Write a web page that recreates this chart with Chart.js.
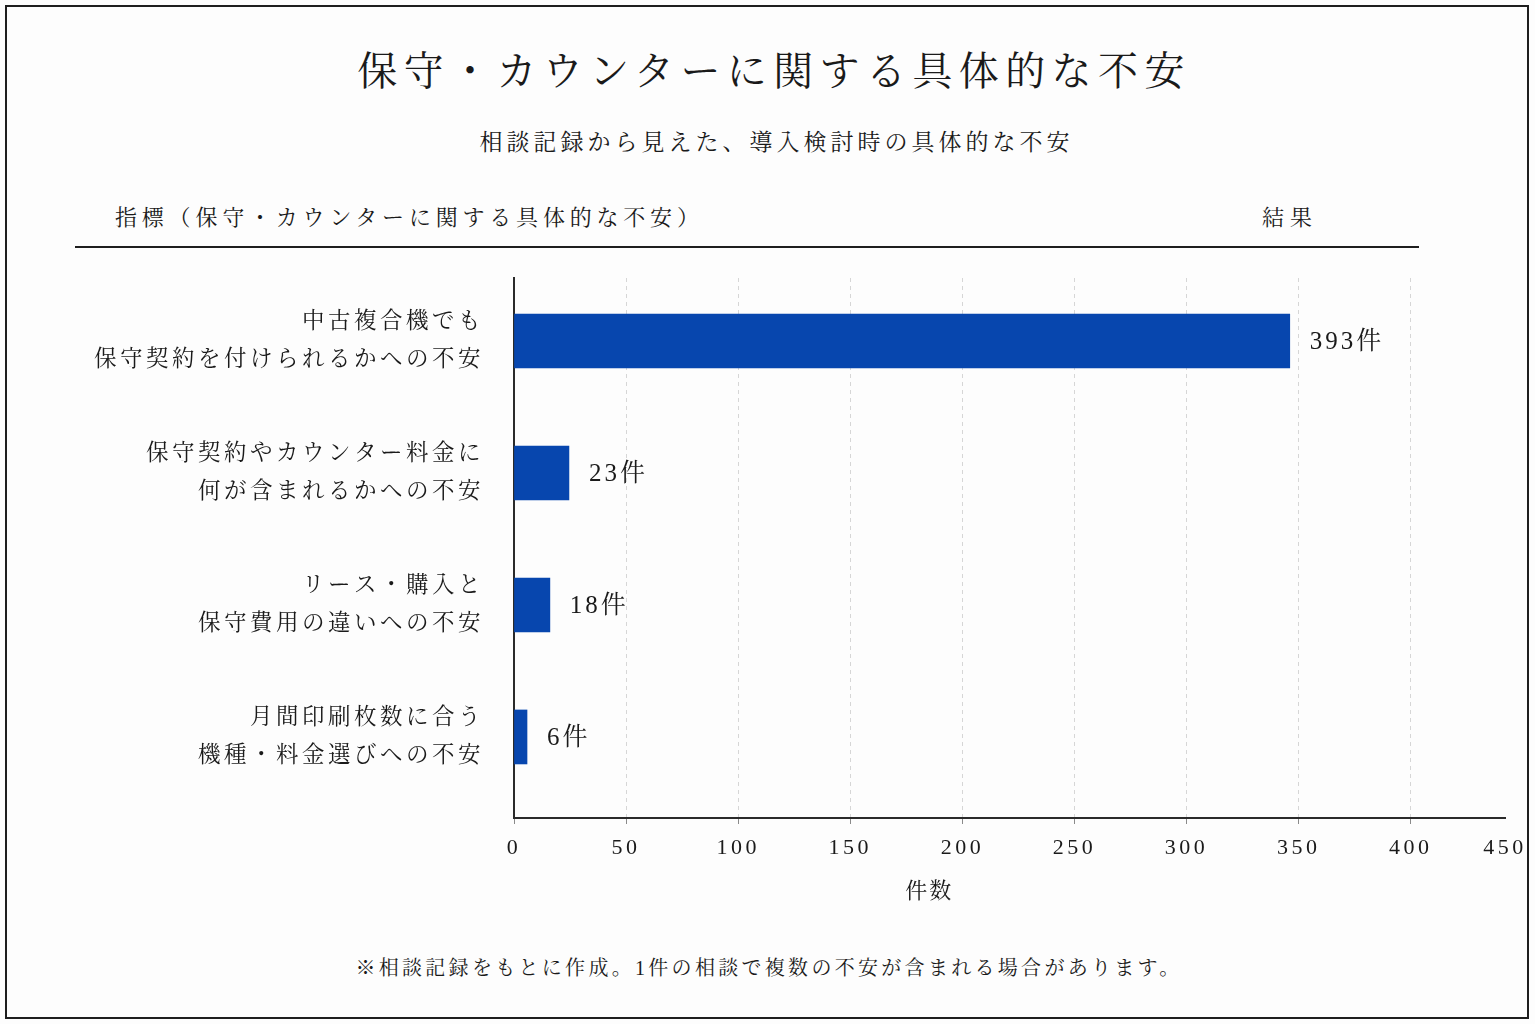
<!DOCTYPE html>
<html lang="ja">
<head>
<meta charset="utf-8">
<script src="https://cdn.jsdelivr.net/npm/chart.js@4.4.1/dist/chart.umd.min.js"></script>
<style>
  html, body { margin: 0; padding: 0; background: #fdfdfd; }
  body { width: 1535px; height: 1024px; position: relative; overflow: hidden;
         font-family: 'Liberation Serif', 'Noto Serif CJK JP', 'Noto Sans CJK JP', serif; color: #1a1a1a; }
  .frame { position: absolute; left: 5px; top: 5px; width: 1524px; height: 1014px;
           box-sizing: border-box; border: 2px solid #1e1e1e; }
  .t { position: absolute; white-space: nowrap; }
  #title { left: 0; width: 1535px; text-align: center; top: 46px; font-size: 40px; line-height: 52px; letter-spacing: 6.4px; padding-left: 13px; box-sizing: border-box; }
  #subtitle { left: 0; width: 1535px; text-align: center; top: 128px; font-size: 23px; line-height: 30px; letter-spacing: 4px; padding-left: 18px; box-sizing: border-box; }
  #hdrLeft { left: 115px; top: 203px; font-size: 22px; line-height: 30px; letter-spacing: 4.8px; }
  #hdrRight { left: 1262px; top: 203px; font-size: 22px; line-height: 30px; letter-spacing: 6px; }
  .rule { position: absolute; left: 75px; top: 246px; width: 1344px; height: 2px; background: #1e1e1e; }
  #note { left: 0; width: 1535px; text-align: center; top: 955px; font-size: 20px; line-height: 26px; letter-spacing: 3.3px; padding-left: 3px; box-sizing: border-box; }
  #chartBox { position: absolute; left: 0; top: 260px; width: 1535px; height: 666px; }
</style>
</head>
<body>
<div class="frame"></div>
<div class="t" id="title">保守・カウンターに関する具体的な不安</div>
<div class="t" id="subtitle">相談記録から見えた、導入検討時の具体的な不安</div>
<div class="t" id="hdrLeft">指標（保守・カウンターに関する具体的な不安）</div>
<div class="t" id="hdrRight">結果</div>
<div class="rule"></div>
<div id="chartBox"><canvas id="c" width="1535" height="666"></canvas></div>
<div class="t" id="note">※相談記録をもとに作成。1件の相談で複数の不安が含まれる場合があります。</div>
<script>
// ---- data ----
const categories = [
  ['中古複合機でも', '保守契約を付けられるかへの不安'],
  ['保守契約やカウンター料金に', '何が含まれるかへの不安'],
  ['リース・購入と', '保守費用の違いへの不安'],
  ['月間印刷枚数に合う', '機種・料金選びへの不安']
];
const countLabels = [393, 23, 18, 6];          // values printed next to bars
const barLengths = [346, 24.5, 16, 5.8];        // bar lengths as drawn in the picture
const xTickLabels = ['0', '50', '100', '150', '200', '250', '300', '350', '400', '450'];
const unitSuffix = '件';
const xAxisTitle = '件数';

const FONT = "'Liberation Serif', 'Noto Serif CJK JP', 'Noto Sans CJK JP', serif";
const TEXT = '#1a1a1a';

const spacingPlugin = {
  id: 'spacing',
  beforeDraw(chart) { chart.ctx.letterSpacing = '3.5px'; }
};
const labelPlugin = {
  id: 'barLabels',
  afterDatasetsDraw(chart) {
    const ctx = chart.ctx;
    const meta = chart.getDatasetMeta(0);
    ctx.save();
    ctx.letterSpacing = '3px';
    ctx.font = '25px ' + FONT;
    ctx.fillStyle = TEXT;
    ctx.textAlign = 'left';
    ctx.textBaseline = 'middle';
    meta.data.forEach((bar, i) => {
      ctx.fillText(countLabels[i] + unitSuffix, bar.x + 20, bar.y + 1);
    });
    const a = chart.chartArea;
    ctx.font = '22px ' + FONT;
    ctx.textAlign = 'center';
    ctx.letterSpacing = '2px';
    ctx.fillText(xAxisTitle, a.left + (a.right - a.left) * 0.419, a.bottom + 74);
    ctx.restore();
  }
};

new Chart(document.getElementById('c'), {
  type: 'bar',
  data: {
    datasets: [{
      data: barLengths.map((v, i) => ({ x: v, y: i })),
      backgroundColor: '#0746ae',
      borderWidth: 0,
      barThickness: 54
    }]
  },
  options: {
    indexAxis: 'y',
    responsive: false,
    animation: false,
    layout: { padding: { left: 0, right: 30, top: 18, bottom: 0 } },
    plugins: { legend: { display: false }, tooltip: { enabled: false }, title: { display: false } },
    scales: {
      x: {
        type: 'linear',
        min: 0,
        max: 442,
        afterFit(s) { s.height = 108; s.paddingLeft = 0; s.paddingRight = 0; },
        grid: {
          display: true,
          drawOnChartArea: true,
          color: (c) => (c.index === 9 || c.index === 0) ? 'rgba(0,0,0,0)' : '#d6d6d6',
          lineWidth: 1,
          tickLength: 6,
          tickColor: (c) => c.index === 9 ? 'rgba(0,0,0,0)' : '#8a8a8a',
          tickBorderDash: [],
        },
        border: { display: true, color: '#2a2a2a', width: 2, dash: [4, 4] },
        ticks: {
          stepSize: 50,
          autoSkip: false,
          maxRotation: 0,
          includeBounds: true,
          padding: 11,
          color: TEXT,
          font: { family: FONT, size: 22 },
          callback: (v, i) => xTickLabels[i]
        }
      },
      y: {
        type: 'linear',
        reverse: true,
        offset: false,
        bounds: 'data',
        min: -0.477,
        max: 3.614,
        afterBuildTicks(s) { s.ticks = categories.map((_, i) => ({ value: i })); },
        afterFit(s) { s.width = 514; s.paddingTop = 0; s.paddingBottom = 0; },
        grid: { display: false, drawTicks: false, offset: false },
        border: { display: true, color: '#2a2a2a', width: 2 },
        ticks: {
          autoSkip: false,
          padding: 30,
          color: TEXT,
          font: { family: FONT, size: 22.5, lineHeight: 1.7 },
          callback: (v) => categories[v] ? categories[v] : ''
        }
      }
    }
  },
  plugins: [spacingPlugin, labelPlugin]
});
</script>
</body>
</html>
